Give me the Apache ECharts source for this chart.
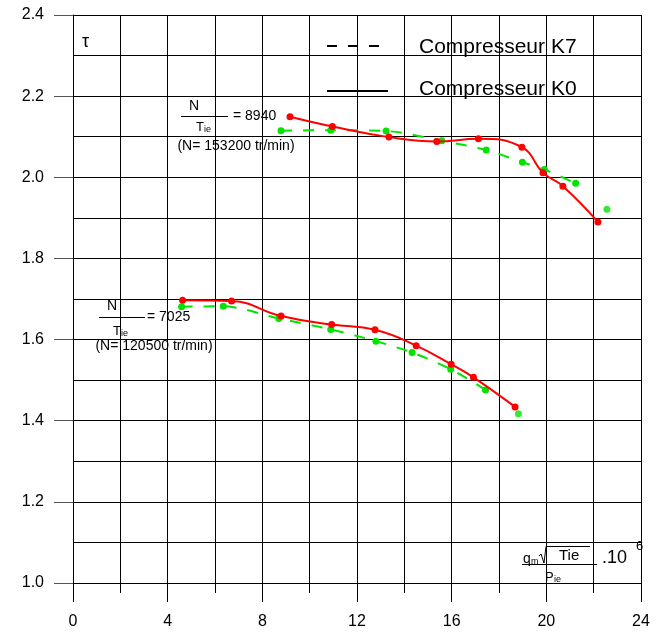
<!DOCTYPE html>
<html>
<head>
<meta charset="utf-8">
<script src="https://cdn.jsdelivr.net/npm/echarts@6/dist/echarts.min.js"></script>
<style>
  html, body { margin: 0; padding: 0; background: #fff; }
  #chart { width: 664px; height: 632px; }
</style>
</head>
<body>
<div id="chart"></div>
<script>
// Pressure ratio tau versus corrected mass flow, two speed lines, two compressors
const xTickLabels = ['0', '4', '8', '12', '16', '20', '24'];
const yTickLabels = ['1.0', '1.2', '1.4', '1.6', '1.8', '2.0', '2.2', '2.4'];

// Compresseur K0 (solid red), N/Tie = 8940
const k0High = [[9.17, 2.149], [10.96, 2.125], [13.35, 2.099], [15.37, 2.088], [17.13, 2.095],
                [18.97, 2.074], [19.86, 2.011], [20.70, 1.978], [22.18, 1.890]];
// Compresseur K7 (dashed green), N/Tie = 8940
const k7High = [[8.79, 2.115], [10.89, 2.116], [13.23, 2.114], [15.58, 2.090], [17.46, 2.067],
                [18.99, 2.037], [19.92, 2.019], [21.24, 1.985], [22.56, 1.921]];
// Compresseur K0 (solid red), N/Tie = 7025
const k0Low = [[4.63, 1.697], [6.70, 1.695], [8.79, 1.658], [10.93, 1.637], [12.76, 1.624],
               [14.50, 1.585], [15.98, 1.539], [16.92, 1.507], [18.68, 1.434]];
// Compresseur K7 (dashed green), N/Tie = 7025
const k7Low = [[4.59, 1.681], [6.35, 1.682], [8.70, 1.652], [10.89, 1.625], [12.80, 1.596],
               [14.33, 1.568], [15.96, 1.527], [17.43, 1.476], [18.82, 1.417]];

const FONT = '"Liberation Sans", Arial, sans-serif';
const RED = '#ff0000';
const GREEN = '#00e400';

function k0Series(data) {
  return {
    type: 'line', data: data, smooth: 0.45, symbol: 'circle', symbolSize: 7,
    lineStyle: { color: RED, width: 2 }, itemStyle: { color: RED }, z: 4, silent: true
  };
}
function k7Series(data) {
  // the last measured point of each K7 run stands alone, off the dashed line
  return [
    {
      type: 'line', data: data.slice(0, data.length - 1), smooth: 0.3, symbol: 'circle', symbolSize: 7,
      lineStyle: { color: GREEN, width: 2, type: [11, 11] }, itemStyle: { color: GREEN }, z: 3, silent: true
    },
    {
      type: 'scatter', data: data.slice(data.length - 1), symbol: 'circle', symbolSize: 7,
      itemStyle: { color: GREEN }, z: 3, silent: true
    }
  ];
}

function txt(x, y, text, size, align) {
  return {
    type: 'text', x: x, y: y, silent: true, z: 10,
    style: { text: text, font: size + 'px ' + FONT, fill: '#000', align: align || 'left', verticalAlign: 'middle' }
  };
}
function hline(x1, x2, y, width, dash) {
  return {
    type: 'line', silent: true, z: 10,
    shape: { x1: x1, y1: y, x2: x2, y2: y },
    style: { stroke: '#000', lineWidth: width, lineDash: dash || null }
  };
}

const chart = echarts.init(document.getElementById('chart'), null, { renderer: 'canvas' });

chart.setOption({
  animation: false,
  backgroundColor: '#fff',
  grid: { left: 73, top: 15, width: 568, height: 568, containLabel: false },
  xAxis: {
    type: 'value', min: 0, max: 24, interval: 4,
    axisLine: { show: true, lineStyle: { color: '#000', width: 1 } },
    axisTick: { show: true, length: 19, lineStyle: { color: '#000', width: 1 } },
    minorTick: { show: true, splitNumber: 2, length: 10, lineStyle: { color: '#000', width: 1 } },
    splitLine: { show: true, lineStyle: { color: '#000', width: 1 } },
    minorSplitLine: { show: true, lineStyle: { color: '#000', width: 1 } },
    axisLabel: {
      margin: 31, fontSize: 16, color: '#000', fontFamily: FONT,
      formatter: function (v) { return xTickLabels[Math.round(v / 4)]; }
    }
  },
  yAxis: {
    type: 'value', min: 1.0, max: 2.4, interval: 0.2,
    axisLine: { show: true, lineStyle: { color: '#000', width: 1 } },
    axisTick: { show: true, length: 19, lineStyle: { color: '#555', width: 1 } },
    minorTick: { show: false, splitNumber: 2 },
    splitLine: { show: true, lineStyle: { color: '#000', width: 1 } },
    minorSplitLine: { show: true, lineStyle: { color: '#000', width: 1 } },
    axisLabel: {
      margin: 29, fontSize: 16, color: '#000', fontFamily: FONT,
      formatter: function (v) { return yTickLabels[Math.round((v - 1.0) / 0.2)]; }
    }
  },
  series: [].concat(k7Series(k7High), k7Series(k7Low), [k0Series(k0High), k0Series(k0Low)]),
  graphic: [
    // axis symbol
    txt(82, 42, 'τ', 18),
    // legend
    hline(327, 382, 46, 2, [10, 11]),
    txt(419, 47, 'Compresseur K7', 21),
    hline(327, 388, 91, 2),
    txt(419, 89, 'Compresseur K0', 21),
    // upper speed line label
    txt(194, 106, 'N', 14, 'center'),
    hline(181, 228, 116.5, 1),
    txt(233, 116, '= 8940', 14),
    txt(196, 127, 'T', 13),
    txt(204, 130, 'ie', 9),
    txt(236, 146, '(N= 153200 tr/min)', 14, 'center'),
    // lower speed line label
    txt(112, 306, 'N', 14, 'center'),
    hline(99, 145, 317.5, 1),
    txt(147, 317, '= 7025', 14),
    txt(113, 331, 'T', 13),
    txt(121, 334, 'ie', 9),
    txt(154, 346, '(N= 120500 tr/min)', 14, 'center'),
    // abscissa quantity: qm·sqrt(Tie)/Pie .10^6
    txt(523, 559, 'q', 14),
    txt(531, 562, 'm', 9),
    {
      type: 'polyline', silent: true, z: 10,
      shape: { points: [[539, 556], [541, 554], [544, 563], [546, 546.5], [590, 546.5]] },
      style: { stroke: '#000', lineWidth: 1, fill: null }
    },
    txt(559, 556, 'Tie', 15),
    hline(522, 597, 564.5, 1),
    txt(545, 577, 'P', 13),
    txt(554, 580, 'ie', 9),
    txt(602, 558, '.10', 18),
    txt(636, 546, '6', 13)
  ]
});
</script>
</body>
</html>
